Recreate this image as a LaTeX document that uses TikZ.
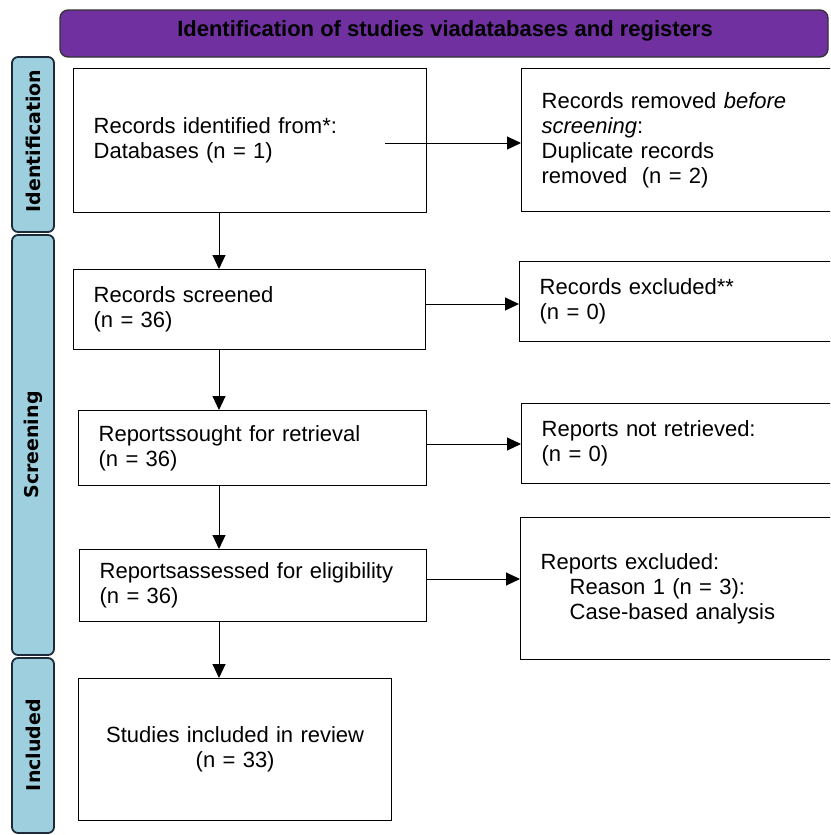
\documentclass[tikz,border=0pt]{standalone}
\usepackage{fontspec}
\setmainfont{Liberation Sans}
\newfontfamily\sidefont{DejaVu Sans}
\usetikzlibrary{arrows.meta,calc}
\definecolor{hdrpurple}{HTML}{7030A0}
\definecolor{sideblue}{HTML}{9DCFDF}
\definecolor{sideedge}{HTML}{1C2A3A}
\begin{document}
\begin{tikzpicture}[x=1pt,y=-1pt,
  box/.style={draw=black,line width=1.3pt,inner xsep=20pt,inner ysep=0pt,
    anchor=north west,align=left,font=\fontsize{22}{25}\selectfont},
  sidebar/.style={draw=sideedge,fill=sideblue,line width=1.8pt,rounded corners=6pt},
  sidelabel/.style={rotate=90,font=\sidefont\bfseries\fontsize{19}{21}\selectfont},
  header/.style={draw=black!80,fill=hdrpurple,line width=1.3pt,rounded corners=8pt},
  arr/.style={line width=1pt,-{Triangle[length=14pt,width=13pt]}}]
\useasboundingbox (0,0) rectangle (830,835);
\clip (0,0) rectangle (830,835);

% header
\draw[header] (60,10) rectangle (828,57);
\node[font=\bfseries\fontsize{22}{26}\selectfont] (hdr) at (445,31) {Identification of studies viadatabases and registers};

% side bars
\draw[sidebar] (12,57) rectangle (54,232);
\draw[sidebar] (12,235) rectangle (54,655);
\draw[sidebar] (12,658) rectangle (54,833);
\node[sidelabel] (lid) at (33,141) {Identification};
\node[sidelabel] (lsc) at (33,445) {Screening};
\node[sidelabel] (lin) at (33,745) {Included};

% boxes
\node[box,minimum width=353pt,minimum height=144pt,text width=313pt] (B1) at (73,68)
  {Records identified from*:\\Databases (n = 1)};
\node[box,minimum width=319pt,minimum height=143pt,text width=279pt] (B2) at (521,68)
  {Records removed \textit{before}\\\textit{screening}:\\Duplicate records\\removed\ \ (n = 2)};
\node[box,minimum width=352pt,minimum height=80pt,text width=312pt] (B3) at (73,269)
  {Records screened\\(n = 36)};
\node[box,minimum width=321pt,minimum height=80pt,text width=281pt] (B4) at (519,261)
  {Records excluded**\\(n = 0)};
\node[box,minimum width=348pt,minimum height=75pt,text width=308pt] (B5) at (78,410)
  {Reportssought for retrieval\\(n = 36)};
\node[box,minimum width=319pt,minimum height=80pt,text width=279pt] (B6) at (521,403)
  {Reports not retrieved:\\(n = 0)};
\node[box,minimum width=347pt,minimum height=72pt,text width=307pt] (B7) at (79,549)
  {Reportsassessed for eligibility\\(n = 36)};
\node[box,minimum width=320pt,minimum height=142pt,text width=280pt] (B8) at (520,517)
  {Reports excluded:\\\hspace*{29pt}Reason 1 (n = 3):\\\hspace*{29pt}Case-based analysis};
\node[box,minimum width=313pt,minimum height=142pt,text width=273pt,align=center] (B9) at (78,678)
  {Studies included in review\\(n = 33)};

% connector helper coordinates
\coordinate (vx) at (219,0);
\coordinate (h1) at (385,143);
\coordinate (h2) at (0,304);
\coordinate (h3) at (0,444);
\coordinate (h4) at (0,579);

% vertical arrows
\draw[arr] (B1.south -| vx) -- (B3.north -| vx);
\draw[arr] (B3.south -| vx) -- (B5.north -| vx);
\draw[arr] (B5.south -| vx) -- (B7.north -| vx);
\draw[arr] (B7.south -| vx) -- (B9.north -| vx);

% horizontal arrows
\draw[arr] (h1) -- (B2.west |- h1);
\draw[arr] (B3.east |- h2) -- (B4.west |- h2);
\draw[arr] (B5.east |- h3) -- (B6.west |- h3);
\draw[arr] (B7.east |- h4) -- (B8.west |- h4);
\end{tikzpicture}
\end{document}
